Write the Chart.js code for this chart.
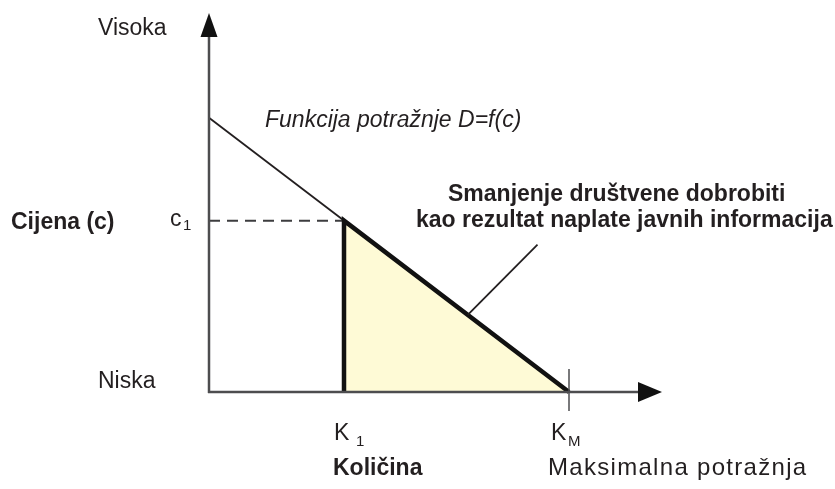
<!DOCTYPE html>
<html>
<head>
<meta charset="utf-8">
<script src="https://cdn.jsdelivr.net/npm/chart.js@4"></script>
<style>
html,body{margin:0;padding:0;background:#fff;}
#wrap{width:835px;height:489px;position:relative;}
</style>
</head>
<body>
<div id="wrap"><canvas id="c" width="835" height="489"></canvas></div>
<script>
// Quantity (x) and price (y) values
const demandQ = [0, 8];          // demand line: from price axis to K_M
const demandP = [8, 0];
const k1 = 3;                    // K1
const kM = 8;                    // K_M (maximum demand)
const c1 = 5;                    // price c1
const welfareQ = [3, 8];         // hypotenuse of the welfare-loss triangle
const welfareP = [5, 0];
const edgeQ = [3, 3, 8];         // bold edges of the triangle
const edgeP = [0, 5, 0];
const dashQ = [0, 3];            // dashed line at c1
const dashP = [5, 5];
const leaderQ = [5.75, 7.3];     // leader line to the annotation
const leaderP = [2.25, 4.3];
const xMax = 10, yMax = 11;

const yLabels = ['Visoka', 'Niska'];
const yTitle = 'Cijena (c)';
const xTitle = 'Količina';
const xNote = 'Maksimalna potražnja';
const curveLabel = 'Funkcija potražnje D=f(c)';
const areaLabel = ['Smanjenje društvene dobrobiti', 'kao rezultat naplate javnih informacija'];

const pts = (xs, ys) => xs.map((x, i) => ({x, y: ys[i]}));
const FONT = '"Liberation Sans", Arial, Helvetica, sans-serif';
const INK = '#231f20';

const overlay = {
  id: 'overlay',
  afterDatasetsDraw(chart) {
    const ctx = chart.ctx;
    const xs = chart.scales.x, ys = chart.scales.y;
    const x0 = xs.getPixelForValue(0), y0 = ys.getPixelForValue(0);
    const yTop = ys.getPixelForValue(yMax) - 2;
    const xEnd = xs.getPixelForValue(xMax) + 3;
    ctx.save();
    // axes
    ctx.strokeStyle = '#4d4d4f';
    ctx.lineWidth = 2.5;
    ctx.beginPath();
    ctx.moveTo(x0, y0 + 1);
    ctx.lineTo(x0, yTop + 22);
    ctx.moveTo(x0 - 1, y0);
    ctx.lineTo(xEnd - 22, y0);
    ctx.stroke();
    // K_M tick
    const xm = xs.getPixelForValue(kM);
    ctx.lineWidth = 1.5;
    ctx.beginPath();
    ctx.moveTo(xm, y0 - 23);
    ctx.lineTo(xm, y0 + 19);
    ctx.stroke();
    // arrow heads
    ctx.fillStyle = '#111';
    ctx.beginPath();
    ctx.moveTo(x0, yTop);
    ctx.lineTo(x0 - 8.5, yTop + 24);
    ctx.lineTo(x0 + 8.5, yTop + 24);
    ctx.closePath();
    ctx.fill();
    ctx.beginPath();
    ctx.moveTo(xEnd, y0);
    ctx.lineTo(xEnd - 24, y0 - 10);
    ctx.lineTo(xEnd - 24, y0 + 10);
    ctx.closePath();
    ctx.fill();

    // texts
    ctx.fillStyle = INK;
    ctx.textAlign = 'left';
    ctx.textBaseline = 'alphabetic';
    ctx.font = '23px ' + FONT;
    ctx.fillText(yLabels[0], 98, 35);
    ctx.fillText(yLabels[1], 98, 388);
    ctx.font = 'bold 23px ' + FONT;
    ctx.fillText(yTitle, 11, 229);
    // c1
    const yc = ys.getPixelForValue(c1);
    ctx.font = '23px ' + FONT;
    ctx.fillText('c', 170, yc + 5);
    ctx.font = '15px ' + FONT;
    ctx.fillText('1', 183, yc + 9);
    // curve label
    ctx.font = 'italic 23px ' + FONT;
    ctx.fillText(curveLabel, 265, 127);
    // area annotation
    ctx.font = 'bold 23px ' + FONT;
    ctx.fillText(areaLabel[0], 448, 201);
    ctx.fillText(areaLabel[1], 416, 227);
    // K labels
    const xk1 = xs.getPixelForValue(k1);
    ctx.font = '23px ' + FONT;
    ctx.fillText('K', xk1 - 10, 440);
    ctx.fillText('K', xm - 18, 440);
    ctx.font = '15px ' + FONT;
    ctx.fillText('1', xk1 + 12, 446);
    ctx.fillText('M', xm - 1, 446);
    // bottom titles
    ctx.font = 'bold 23px ' + FONT;
    ctx.fillText(xTitle, 333, 475);
    ctx.font = '24px ' + FONT;
    try { ctx.letterSpacing = '1.3px'; } catch (e) {}
    ctx.fillText(xNote, 548, 475);
    try { ctx.letterSpacing = '0px'; } catch (e) {}
    ctx.restore();
  }
};

new Chart(document.getElementById('c'), {
  type: 'scatter',
  data: {
    datasets: [
      { data: pts(welfareQ, welfareP), showLine: true, fill: 'origin',
        backgroundColor: '#fefad6', borderWidth: 0, pointRadius: 0, order: 5 },
      { data: pts(dashQ, dashP), showLine: true, borderColor: '#3d3d3f',
        borderWidth: 2, borderDash: [11, 7], pointRadius: 0, order: 4 },
      { data: pts(demandQ, demandP), showLine: true, borderColor: INK,
        borderWidth: 1.8, pointRadius: 0, order: 3 },
      { data: pts(edgeQ, edgeP), showLine: true, borderColor: '#111',
        borderWidth: 4.5, borderJoinStyle: 'miter', pointRadius: 0, order: 2 },
      { data: pts(leaderQ, leaderP), showLine: true, borderColor: INK,
        borderWidth: 1.8, pointRadius: 0, order: 1 }
    ]
  },
  options: {
    responsive: false,
    animation: false,
    layout: { padding: { left: 209, right: 176, top: 15, bottom: 97 } },
    elements: { line: { tension: 0 } },
    plugins: { legend: { display: false }, tooltip: { enabled: false } },
    scales: {
      x: { type: 'linear', min: 0, max: xMax, display: false },
      y: { type: 'linear', min: 0, max: yMax, display: false }
    },
    datasets: { scatter: { clip: false } }
  },
  plugins: [overlay]
});
</script>
</body>
</html>
